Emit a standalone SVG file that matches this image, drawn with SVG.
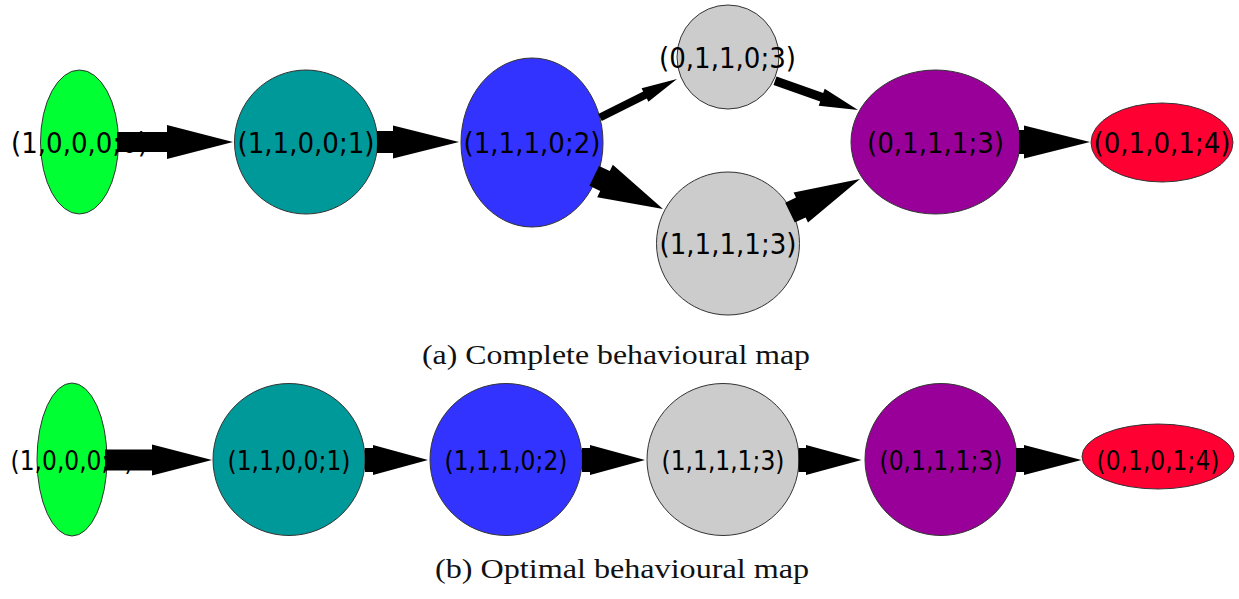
<svg xmlns="http://www.w3.org/2000/svg" width="1239" height="599" viewBox="0 0 1239 599">
<style>
.n{stroke:#333;stroke-width:1}
.lt{font-family:'DejaVu Sans Condensed','DejaVu Sans',sans-serif;font-stretch:condensed;font-size:29px;text-anchor:middle;fill:#000}
.lb{font-family:'DejaVu Sans Condensed','DejaVu Sans',sans-serif;font-stretch:condensed;font-size:26px;text-anchor:middle;fill:#000}
.cap{font-family:'Liberation Serif',serif;font-size:28px;fill:#111}
.e{fill:#000;stroke:none}
</style>
<rect width="1239" height="599" fill="#fff"/>
<g id="top-nodes">
<g id="a-1000"><ellipse class="n" cx="79.5" cy="142" rx="39" ry="72" fill="#00ff33"/><text class="lt" x="79.5" y="152.5">(1,0,0,0;0)</text></g>
<g id="a-1100"><ellipse class="n" cx="306" cy="142" rx="71.5" ry="72" fill="#009999"/><text class="lt" x="306" y="152.5">(1,1,0,0;1)</text></g>
<g id="a-1110"><ellipse class="n" cx="532" cy="142.5" rx="71" ry="84.5" fill="#3333ff"/><text class="lt" x="532" y="152.5">(1,1,1,0;2)</text></g>
<g id="a-0110"><ellipse class="n" cx="728" cy="57" rx="51" ry="52" fill="#cccccc"/><text class="lt" x="727.5" y="67.5">(0,1,1,0;3)</text></g>
<g id="a-1111"><ellipse class="n" cx="728" cy="243.5" rx="71.5" ry="71.5" fill="#cccccc"/><text class="lt" x="728" y="253.5">(1,1,1,1;3)</text></g>
<g id="a-0111"><ellipse class="n" cx="935.5" cy="142" rx="84.5" ry="72" fill="#990099"/><text class="lt" x="935.5" y="152.5">(0,1,1,1;3)</text></g>
<g id="a-0101"><ellipse class="n" cx="1162" cy="142.5" rx="71" ry="39.5" fill="#ff0033"/><text class="lt" x="1162" y="152.5">(0,1,0,1;4)</text></g>
</g>
<g id="bottom-nodes">
<g id="b-1000"><ellipse class="n" cx="72" cy="459.5" rx="35" ry="76.5" fill="#00ff33"/><text class="lb" x="72" y="469.5">(1,0,0,0;0)</text></g>
<g id="b-1100"><circle class="n" cx="289" cy="459.5" r="76" fill="#009999"/><text class="lb" x="289" y="469.5">(1,1,0,0;1)</text></g>
<g id="b-1110"><circle class="n" cx="506" cy="459.5" r="76" fill="#3333ff"/><text class="lb" x="506" y="469.5">(1,1,1,0;2)</text></g>
<g id="b-1111"><circle class="n" cx="723" cy="459.5" r="76" fill="#cccccc"/><text class="lb" x="723" y="469.5">(1,1,1,1;3)</text></g>
<g id="b-0111"><circle class="n" cx="941" cy="459.5" r="76" fill="#990099"/><text class="lb" x="941" y="469.5">(0,1,1,1;3)</text></g>
<g id="b-0101"><ellipse class="n" cx="1158" cy="456.5" rx="76" ry="32.5" fill="#ff0033"/><text class="lb" x="1158" y="469.5">(0,1,0,1;4)</text></g>
</g>
<g id="connectors">
<polygon class="e" points="117,132 167,132 167,125 233,142 167,159 167,152 117,152"/>
<polygon class="e" points="377,131 393,131 393,125.5 459,142 393,158.5 393,153 377,153"/>
<polygon class="e" points="601.8,121.1 646.8,98.6 648.4,101.7 677,79 641.6,88.3 643.2,91.4 598.2,113.9"/>
<polygon class="e" points="773.5,85 820.2,101.4 818.7,105.7 858,110 824.7,88.7 823.2,93 776.5,76.6"/>
<polygon class="e" points="589.4,185.7 600.2,190.9 597.2,197.2 663,209 612.8,164.8 609.8,171.1 599,165.9"/>
<polygon class="e" points="794.8,222.6 805.6,217.4 808,222.4 860,179 793.6,192.6 796,197.6 785.2,202.8"/>
<polygon class="e" points="1019,130 1024,130 1024,125.5 1090,142 1024,158.5 1024,154 1019,154"/>
<polygon class="e" points="105,449.5 152,449.5 152,444.5 212,460 152,475.5 152,470.5 105,470.5"/>
<polygon class="e" points="365,448 373,448 373,445 428,460 373,475 373,472 365,472"/>
<polygon class="e" points="582,448 590,448 590,445 645,460 590,475 590,472 582,472"/>
<polygon class="e" points="798.5,448 806,448 806,445 861.5,460 806,475 806,472 798.5,472"/>
<polygon class="e" points="1016,448 1024,448 1024,445 1081.5,460 1024,475 1024,472 1016,472"/>
</g>
<g id="captions">
<text class="cap" x="422" y="364" textLength="388" lengthAdjust="spacingAndGlyphs">(a) Complete behavioural map</text>
<text class="cap" x="435" y="578" textLength="374" lengthAdjust="spacingAndGlyphs">(b) Optimal behavioural map</text>
</g>
</svg>
